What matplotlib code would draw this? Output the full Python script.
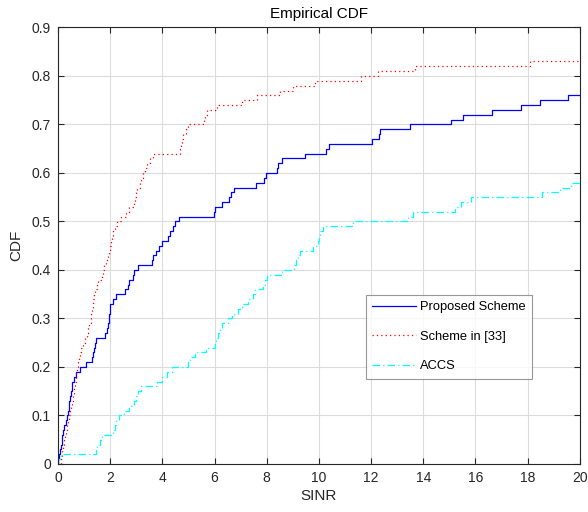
import numpy as np
import matplotlib.pyplot as plt

# =========================
# DATA (step points: SINR where the CDF jumps, CDF level after the jump)
# =========================

prop_x = [0.0, 0.03, 0.08, 0.11, 0.15, 0.17, 0.2, 0.25, 0.3, 0.34, 0.37, 0.41, 0.44, 0.46,
          0.5, 0.52, 0.55, 0.6, 0.7, 0.84, 1.06, 1.3, 1.35, 1.38, 1.41, 1.44, 1.8, 1.86,
          1.93, 1.96, 1.97, 1.98, 1.99, 2.12, 2.21, 2.57, 2.67, 2.74, 2.86, 2.93, 3.08,
          3.6, 3.66, 3.75, 3.87, 3.98, 4.2, 4.3, 4.4, 4.48, 4.65, 5.99, 6.03, 6.27, 6.56,
          6.65, 6.76, 7.59, 7.89, 7.97, 8.38, 8.45, 8.57, 9.45, 10.29, 10.4, 12.05, 12.31,
          12.35, 13.51, 15.07, 15.53, 16.65, 17.73, 18.47, 19.55]
prop_y = [0.01, 0.02, 0.03, 0.04, 0.05, 0.06, 0.07, 0.08, 0.09, 0.10, 0.11, 0.12, 0.13, 0.14,
          0.15, 0.16, 0.17, 0.18, 0.19, 0.20, 0.21, 0.22, 0.23, 0.24, 0.25, 0.26, 0.27, 0.28,
          0.29, 0.30, 0.31, 0.32, 0.33, 0.34, 0.35, 0.36, 0.37, 0.38, 0.39, 0.40, 0.41,
          0.42, 0.43, 0.44, 0.45, 0.46, 0.47, 0.48, 0.49, 0.50, 0.51, 0.52, 0.53, 0.54, 0.55,
          0.56, 0.57, 0.58, 0.59, 0.60, 0.61, 0.62, 0.63, 0.64, 0.65, 0.66, 0.67, 0.68,
          0.69, 0.70, 0.71, 0.72, 0.73, 0.74, 0.75, 0.76]

ref_x = [0.10, 0.15, 0.17, 0.2, 0.23, 0.27, 0.3, 0.35, 0.4, 0.44, 0.47, 0.5, 0.53, 0.56,
         0.6, 0.63, 0.66, 0.68, 0.7, 0.72, 0.78, 0.81, 0.84, 0.9, 0.95, 1.02, 1.1, 1.16,
         1.2, 1.25, 1.28, 1.31, 1.33, 1.35, 1.38, 1.42, 1.5, 1.55, 1.7, 1.74, 1.78, 1.84,
         1.9, 1.97, 2.0, 2.04, 2.07, 2.12, 2.2, 2.25, 2.41, 2.6, 2.72, 2.91, 2.95, 2.98,
         3.01, 3.14, 3.2, 3.27, 3.33, 3.4, 3.52, 3.63, 4.67, 4.72, 4.77, 4.81, 4.9, 4.99,
         5.58, 5.64, 5.73, 6.08, 7.07, 7.64, 8.5, 8.99, 9.85, 11.63, 12.27, 13.68, 18.08]
ref_y = [0.01, 0.02, 0.03, 0.04, 0.05, 0.06, 0.07, 0.08, 0.09, 0.10, 0.11, 0.12, 0.13, 0.14,
         0.15, 0.16, 0.17, 0.18, 0.19, 0.20, 0.21, 0.22, 0.23, 0.24, 0.25, 0.26, 0.27, 0.28,
         0.29, 0.30, 0.31, 0.32, 0.33, 0.34, 0.35, 0.36, 0.37, 0.38, 0.39, 0.40, 0.41, 0.42,
         0.43, 0.44, 0.45, 0.46, 0.47, 0.48, 0.49, 0.50, 0.51, 0.52, 0.53, 0.54, 0.55, 0.56,
         0.57, 0.58, 0.59, 0.60, 0.61, 0.62, 0.63, 0.64, 0.65, 0.66, 0.67, 0.68, 0.69, 0.70,
         0.71, 0.72, 0.73, 0.74, 0.75, 0.76, 0.77, 0.78, 0.79, 0.80, 0.81, 0.82, 0.83]

accs_x = [0.02, 0.1, 1.45, 1.5, 1.6, 1.7, 2.12, 2.18, 2.24, 2.33, 2.53, 2.74, 2.93, 2.99,
          3.05, 3.2, 3.8, 3.97, 4.16, 4.36, 5.0, 5.05, 5.25, 5.67, 6.0, 6.05, 6.15, 6.22,
          6.3, 6.5, 6.68, 6.91, 7.04, 7.3, 7.46, 7.55, 7.87, 7.93, 8.0, 8.57, 9.05, 9.12,
          9.2, 9.27, 9.76, 9.98, 10.0, 10.04, 10.17, 11.29, 13.4, 13.61, 15.23, 15.45,
          15.85, 18.55, 19.23, 19.68]
accs_y = [0.01, 0.02, 0.03, 0.04, 0.05, 0.06, 0.07, 0.08, 0.09, 0.10, 0.11, 0.12, 0.13, 0.14,
          0.15, 0.16, 0.17, 0.18, 0.19, 0.20, 0.21, 0.22, 0.23, 0.24, 0.25, 0.26, 0.27, 0.28,
          0.29, 0.30, 0.31, 0.32, 0.33, 0.34, 0.35, 0.36, 0.37, 0.38, 0.39, 0.40, 0.41, 0.42,
          0.43, 0.44, 0.45, 0.46, 0.47, 0.48, 0.49, 0.50, 0.51, 0.52, 0.53, 0.54,
          0.55, 0.56, 0.57, 0.58]

x_max = 20

plt.rcParams['font.family'] = ['Liberation Sans', 'DejaVu Sans']


def stairs(xs, ys):
    # start at zero on the first sample, run flat to the right edge
    sx = np.r_[xs[0], xs, x_max]
    sy = np.r_[0, ys, ys[-1]]
    return sx, sy


fig = plt.figure(figsize=(5.88, 5.12), dpi=100)
ax = fig.add_axes([0.0986, 0.0938, 0.8874, 0.8525])

x, y = stairs(prop_x, prop_y)
ax.step(x, y, where='post', color='#0000ff', lw=0.9, label='Proposed Scheme')
x, y = stairs(ref_x, ref_y)
ax.step(x, y, where='post', color='#ff0000', lw=0.9, ls=(0, (1, 2.5)), label='Scheme in [33]')
x, y = stairs(accs_x, accs_y)
ax.step(x, y, where='post', color='#00ffff', lw=0.9, ls=(0, (6, 2.5, 1, 2.5)), label='ACCS')

ax.set_xlim(0, 20)
ax.set_ylim(0, 0.9)
ax.set_xticks(np.arange(0, 21, 2))
ax.set_yticks(np.arange(0, 0.91, 0.1))
ax.set_yticklabels(['0', '0.1', '0.2', '0.3', '0.4', '0.5', '0.6', '0.7', '0.8', '0.9'])

ax.grid(True, color='#dcdcdc', lw=0.8)
ax.set_axisbelow(True)
ax.tick_params(direction='in', length=4, width=0.8, top=True, right=True,
               labelsize=10, colors='#262626', pad=5)
for s in ax.spines.values():
    s.set_color('#262626')
    s.set_linewidth(0.8)

ax.set_title('Empirical CDF', fontsize=11, color='#000000', pad=7)
ax.set_xlabel('SINR', fontsize=11, color='#262626', labelpad=3)
ax.set_ylabel('CDF', fontsize=11, color='#262626', labelpad=6)

leg = ax.legend(loc='upper left', bbox_to_anchor=(0.59, 0.388),
                fontsize=9.3, frameon=True, fancybox=False, handlelength=3.4,
                labelspacing=1.35, borderpad=0.5, handletextpad=0.3, borderaxespad=0)
leg.get_frame().set_edgecolor('#7f7f7f')
leg.get_frame().set_linewidth(0.8)

fig.savefig('out.png', dpi=100)
